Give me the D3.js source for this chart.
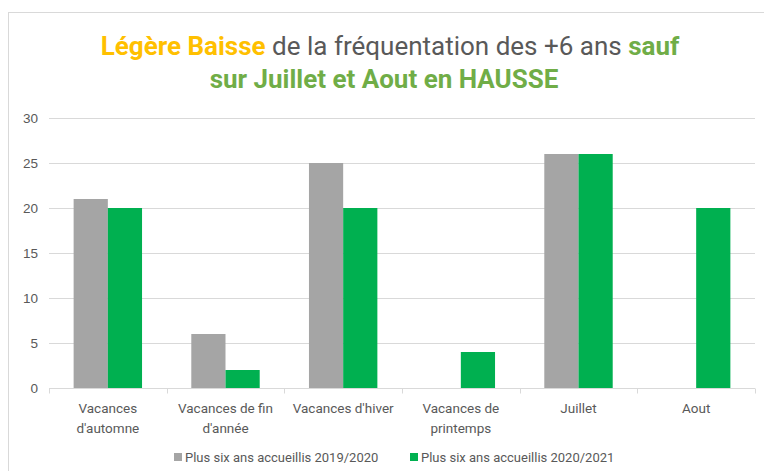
<!DOCTYPE html>
<meta charset="utf-8" />
<style>
  body {
    margin: 0px;
    padding: 0px;
    background: #fff;
  }
  svg {
    display: block;
    font-family: Roboto, "Open Sans", sans-serif;
  }
  .grid line {
    stroke: #d9d9d9;
    stroke-width: 1px;
  }
</style>

<svg width="764" height="471"></svg>

<script src="https://d3js.org/d3.v7.min.js"></script>
<script>
  const categories = [
    ["Vacances", "d'automne"],
    ["Vacances de fin", "d'année"],
    ["Vacances d'hiver"],
    ["Vacances de", "printemps"],
    ["Juillet"],
    ["Aout"],
  ];
  const series = ["Plus six ans accueillis 2019/2020", "Plus six ans accueillis 2020/2021"];
  const values2019 = [21, 6, 25, null, 26, null];
  const values2020 = [20, 2, 20, 4, 26, 20];
  const yTicks = [0, 5, 10, 15, 20, 25, 30];
  const colors = ["#a5a5a5", "#00b050"];

  const svg = d3.select("svg"),
    width = +svg.attr("width"),
    height = +svg.attr("height");

  // chart frame (cut by window on the right/bottom)
  svg
    .append("rect")
    .attr("x", 8.5)
    .attr("y", 12.5)
    .attr("width", 770)
    .attr("height", 480)
    .attr("fill", "none")
    .attr("stroke", "#d9d9d9");

  const margin = { left: 49, right: 9, top: 118, bottom: 83 };

  const x = d3
    .scaleBand()
    .domain(d3.range(categories.length))
    .range([margin.left, width - margin.right]);

  const inner = d3
    .scaleBand()
    .domain([0, 1])
    .range([0, x.bandwidth()])
    .paddingInner(0)
    .paddingOuter(0.72);

  const y = d3
    .scaleLinear()
    .domain([0, 30])
    .range([height - margin.bottom, margin.top]);

  // title
  const title = svg.append("text").attr("text-anchor", "middle");
  const l1 = title.append("tspan").attr("x", width / 2 + 8).attr("y", 55).attr("font-size", 26);
  l1.append("tspan").attr("fill", "#ffc000").attr("font-weight", "bold").text("Légère Baisse");
  l1.append("tspan").attr("fill", "#595959").text(" de la fréquentation des +6 ans ");
  l1.append("tspan").attr("fill", "#70ad47").attr("font-weight", "bold").text("sauf");
  title
    .append("tspan")
    .attr("x", width / 2 + 2)
    .attr("y", 88)
    .attr("font-size", 26)
    .attr("fill", "#70ad47")
    .attr("font-weight", "bold")
    .text("sur Juillet et Aout en HAUSSE");

  // gridlines
  svg
    .append("g")
    .attr("class", "grid")
    .selectAll("line")
    .data(yTicks)
    .enter()
    .append("line")
    .attr("x1", margin.left)
    .attr("x2", width - margin.right)
    .attr("y1", (d) => Math.round(y(d)) + 0.5)
    .attr("y2", (d) => Math.round(y(d)) + 0.5);

  // y axis labels
  const yAxis = svg
    .append("g")
    .attr("transform", `translate(${margin.left},0)`)
    .call(d3.axisLeft(y).tickValues(yTicks).tickSize(0).tickPadding(11));
  yAxis.select(".domain").remove();
  yAxis.selectAll("text").attr("font-size", 13.5).attr("fill", "#595959").attr("font-family", null);

  // bars
  const allSeries = [values2019, values2020];
  const barG = svg.append("g");
  allSeries.forEach(function (vals, s) {
    barG
      .selectAll("rect.s" + s)
      .data(vals.map((v, i) => ({ v: v, i: i })).filter((d) => d.v != null))
      .enter()
      .append("rect")
      .attr("class", "s" + s)
      .attr("x", (d) => x(d.i) + inner(s))
      .attr("width", inner.bandwidth())
      .attr("y", (d) => y(d.v))
      .attr("height", (d) => y(0) - y(d.v))
      .attr("fill", colors[s]);
  });

  // x axis
  const xAxisY = Math.round(y(0)) + 0.5;
  const xg = svg.append("g");
  xg.append("line")
    .attr("x1", margin.left)
    .attr("x2", width - margin.right)
    .attr("y1", xAxisY)
    .attr("y2", xAxisY)
    .attr("stroke", "#d9d9d9");
  xg.selectAll("line.tick")
    .data(d3.range(categories.length + 1))
    .enter()
    .append("line")
    .attr("class", "tick")
    .attr("x1", (d) => Math.round(margin.left + d * x.step()) + 0.5)
    .attr("x2", (d) => Math.round(margin.left + d * x.step()) + 0.5)
    .attr("y1", xAxisY)
    .attr("y2", xAxisY + 5)
    .attr("stroke", "#d9d9d9");
  xg.selectAll("text")
    .data(categories)
    .enter()
    .append("text")
    .attr("text-anchor", "middle")
    .attr("font-size", 13.5)
    .attr("fill", "#595959")
    .each(function (d, i) {
      const t = d3.select(this);
      d.forEach(function (line, k) {
        t.append("tspan")
          .attr("x", x(i) + x.bandwidth() / 2)
          .attr("y", 413 + k * 20)
          .text(line);
      });
    });

  // legend
  const legend = svg.append("g").attr("font-size", 13).attr("fill", "#595959");
  const legendX = [174, 410];
  series.forEach(function (name, s) {
    const g = legend.append("g").attr("transform", `translate(${legendX[s]},0)`);
    g.append("rect").attr("x", 0).attr("y", 453).attr("width", 8).attr("height", 8).attr("fill", colors[s]);
    g.append("text").attr("x", 11).attr("y", 462).text(name);
  });
</script>
